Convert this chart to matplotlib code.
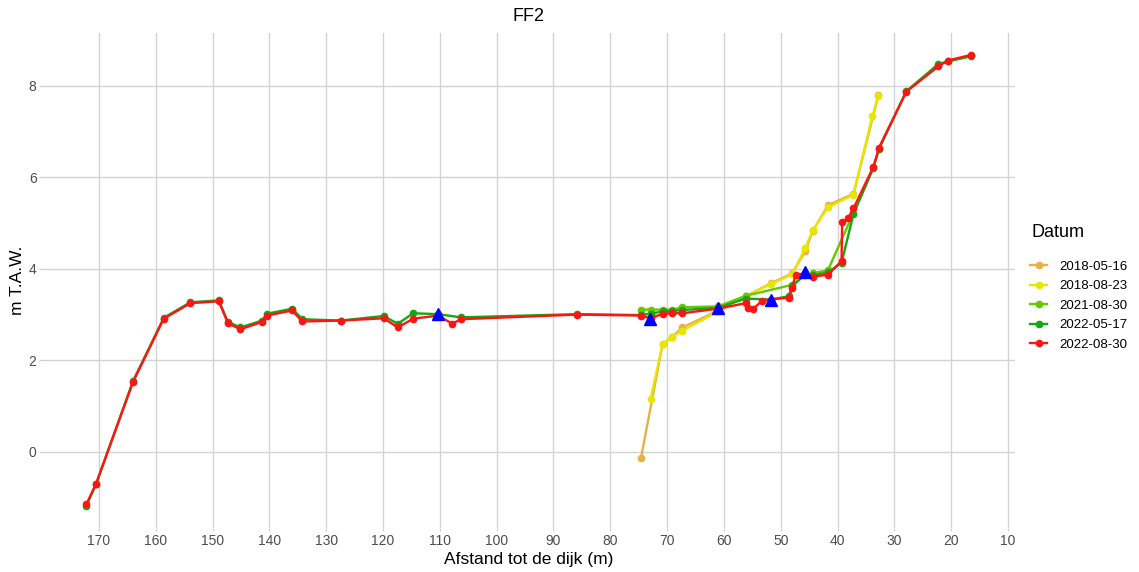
import matplotlib
matplotlib.use('Agg')
import matplotlib.pyplot as plt
from matplotlib.lines import Line2D

plt.rcParams['font.family'] = ['Liberation Sans', 'DejaVu Sans']

# 2018-05-16
d_0516 = [74.6, 70.8, 69.1, 67.3, 61.0, 56.2, 51.8, 48.0, 45.7, 44.4, 41.7, 37.2, 32.8]
z_0516 = [-0.13, 2.35, 2.52, 2.72, 3.09, 3.40, 3.68, 3.90, 4.38, 4.82, 5.39, 5.64, 7.80]

# 2018-08-23
d_0823 = [72.9, 70.8, 69.1, 67.3, 61.0, 56.2, 51.8, 48.0, 45.7, 44.4, 41.7, 37.2, 33.9, 32.8]
z_0823 = [1.16, 2.36, 2.52, 2.65, 3.07, 3.41, 3.66, 3.88, 4.45, 4.84, 5.34, 5.62, 7.33, 7.77]

# 2021-08-30
d_2108 = [74.6, 72.9, 70.8, 69.1, 67.3, 61.0, 56.2, 48.0, 45.7, 44.4, 41.7, 37.2]
z_2108 = [3.11, 3.11, 3.11, 3.11, 3.16, 3.18, 3.41, 3.65, 3.86, 3.90, 3.97, 5.22]

# 2022-05-17
d_2205 = [172.2, 170.5, 164.0, 158.6, 153.9, 148.9, 147.3, 145.1, 141.3, 140.4, 136.0, 134.2,
          127.4, 119.9, 117.4, 114.7, 110.3, 106.3, 85.9, 74.6, 72.9, 70.8, 69.1, 67.3, 61.0,
          56.2, 51.8, 48.6, 48.0, 45.7, 44.4, 41.7, 39.3, 37.2, 33.7, 32.7, 27.9, 22.3, 20.6, 16.6]
z_2205 = [-1.17, -0.70, 1.55, 2.93, 3.27, 3.31, 2.84, 2.72, 2.87, 3.02, 3.13, 2.90,
          2.87, 2.97, 2.80, 3.03, 3.01, 2.94, 3.01, 2.99, 3.02, 3.07, 3.08, 3.10, 3.15,
          3.35, 3.33, 3.40, 3.62, 3.88, 3.86, 3.92, 4.13, 5.20, 6.20, 6.62, 7.88, 8.47, 8.53, 8.64]

# 2022-08-30
d_2208 = [172.2, 170.5, 164.0, 158.6, 153.9, 148.9, 147.3, 145.1, 141.3, 140.4, 136.0, 134.2,
          127.4, 119.9, 117.4, 114.7, 110.3, 107.8, 106.3, 85.9, 74.6, 72.9, 70.8, 69.1, 67.3,
          61.0, 56.2, 55.7, 54.9, 53.3, 51.8, 48.6, 48.0, 47.4, 45.7, 44.4, 41.7, 39.3, 39.2,
          38.2, 37.2, 33.7, 32.7, 27.9, 22.3, 20.6, 16.6]
z_2208 = [-1.14, -0.69, 1.53, 2.91, 3.25, 3.29, 2.81, 2.68, 2.84, 2.98, 3.09, 2.85,
          2.87, 2.92, 2.72, 2.91, 2.98, 2.80, 2.90, 3.00, 2.98, 2.92, 3.02, 3.03, 3.03,
          3.13, 3.25, 3.14, 3.12, 3.30, 3.33, 3.37, 3.58, 3.87, 3.90, 3.83, 3.87, 4.17, 5.02,
          5.10, 5.32, 6.23, 6.65, 7.87, 8.42, 8.55, 8.67]

# blauwe driehoeken
d_tri = [110.3, 73.0, 61.0, 51.8, 45.7]
z_tri = [3.02, 2.90, 3.15, 3.33, 3.92]

labels = ['2018-05-16', '2018-08-23', '2021-08-30', '2022-05-17', '2022-08-30']
colors = ['#E8B04B', '#E6E600', '#66C800', '#12A812', '#FF1414']
series = [(d_0516, z_0516), (d_0823, z_0823), (d_2108, z_2108), (d_2205, z_2205), (d_2208, z_2208)]

fig = plt.figure(figsize=(11.39, 5.72), dpi=100)
ax = fig.add_axes([0.037, 0.077, 0.854, 0.866])

for (d, z), c in zip(series, colors):
    ax.plot(d, z, '-o', color=c, lw=1.7, markersize=4.5, zorder=3)

ax.plot(d_tri, z_tri, '^', color='#0000FF', markersize=9, zorder=5, linestyle='none')

ax.set_xlim(180.0, 8.8)
ax.set_ylim(-1.66, 9.16)
ax.set_xticks(range(170, 0, -10))
ax.set_yticks([0, 2, 4, 6, 8])
ax.grid(True, color='#d3d3d3', lw=1.0)
ax.set_axisbelow(True)
for s in ax.spines.values():
    s.set_visible(False)
ax.tick_params(labelsize=10, colors='#4d4d4d', length=2, width=0.8, pad=2)
ax.tick_params(axis='both', color='#cccccc')

ax.set_title('FF2', fontsize=13, pad=8)
ax.set_xlabel('Afstand tot de dijk (m)', fontsize=12.5, labelpad=3)
ax.set_ylabel('m T.A.W.', fontsize=12.5, labelpad=3)

# legenda: titel apart zodat de afstand klopt
fig.text(0.906, 0.5944, 'Datum', fontsize=13, va='center', ha='left')
handles = [Line2D([0], [0], color=c, marker='o', lw=1.7, markersize=4.5) for c in colors]
leg = fig.legend(handles, labels, loc='upper left', bbox_to_anchor=(0.894, 0.565),
                 frameon=False, fontsize=9.5,
                 handlelength=1.3, handletextpad=0.9, labelspacing=0.55)

fig.savefig('out.png', dpi=100)
